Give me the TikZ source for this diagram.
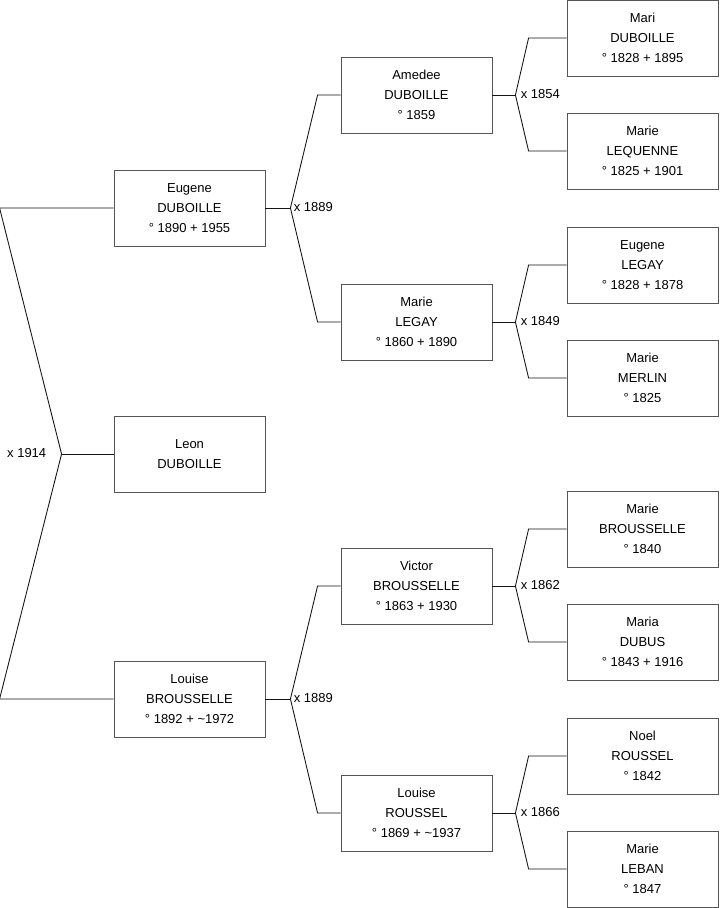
\documentclass[tikz,border=0pt]{standalone}
\usepackage{fontspec}
\setmainfont{Liberation Sans}
\usepackage{tikz}
\usetikzlibrary{positioning, calc}
\definecolor{boxline}{RGB}{85,85,85}
\definecolor{linkline}{RGB}{20,20,20}
\tikzset{
  person/.style={rectangle, draw=boxline, fill=white,
    minimum width=3.02cm, minimum height=1.52cm, inner sep=0pt,
    align=center, font=\fontsize{7.4}{11.4}\selectfont, line width=0.5pt},
  link/.style={color=linkline, line width=0.5pt},
  marriage/.style={font=\fontsize{7.4}{9}\selectfont, inner sep=0pt}
}

\begin{document}
\begin{tikzpicture}[x=0.02cm, y=-0.02cm]
  \useasboundingbox (0,0) rectangle (719,908);

  % Generation 1
  \node[person] (eug) at (189.5,208) {Eugene\\DUBOILLE\\° 1890 + 1955};
  \node[person] (leo) at (189.5,454) {Leon\\DUBOILLE};
  \node[person] (lou) at (189.5,699) {Louise\\BROUSSELLE\\° 1892 + \textasciitilde1972};

  % Generation 2
  \node[person] (ame) at (416.5,95) {Amedee\\DUBOILLE\\° 1859};
  \node[person] (mle) at (416.5,322) {Marie\\LEGAY\\° 1860 + 1890};
  \node[person] (vic) at (416.5,586) {Victor\\BROUSSELLE\\° 1863 + 1930};
  \node[person] (lro) at (416.5,813) {Louise\\ROUSSEL\\° 1869 + \textasciitilde1937};

  % Generation 3
  \node[person] (mdu) at (642.5,38) {Mari\\DUBOILLE\\° 1828 + 1895};
  \node[person] (mlq) at (642.5,151) {Marie\\LEQUENNE\\° 1825 + 1901};
  \node[person] (ele) at (642.5,265) {Eugene\\LEGAY\\° 1828 + 1878};
  \node[person] (mme) at (642.5,378) {Marie\\MERLIN\\° 1825};
  \node[person] (mbr) at (642.5,529) {Marie\\BROUSSELLE\\° 1840};
  \node[person] (mad) at (642.5,642) {Maria\\DUBUS\\° 1843 + 1916};
  \node[person] (nro) at (642.5,756) {Noel\\ROUSSEL\\° 1842};
  \node[person] (mlb) at (642.5,869) {Marie\\LEBAN\\° 1847};

  % Parents of Leon
  \draw[link] (leo.west) -- ++(-52,0) coordinate (m0);
  \draw[link] (eug.west) -- ($(eug.west)+(-114,0)$) -- (m0)
    -- ($(lou.west)+(-114,0)$) -- (lou.west);
  \node[marriage, anchor=east] at ($(m0)+(-15,-1)$) {x 1914};

  % Parents of generation 1
  \foreach \c/\f/\m/\yr in {eug/ame/mle/1889, lou/vic/lro/1889} {
    \draw[link] (\c.east) -- ++(25,0) coordinate (m\c);
    \draw[link] (\f.west) -- ($(\f.west)+(-23,0)$) -- (m\c)
      -- ($(\m.west)+(-23,0)$) -- (\m.west);
    \node[marriage, anchor=west] at ($(m\c)+(3,-1)$) {x \yr};
  }

  % Parents of generation 2
  \foreach \c/\f/\m/\yr in {ame/mdu/mlq/1854, mle/ele/mme/1849,
                            vic/mbr/mad/1862, lro/nro/mlb/1866} {
    \draw[link] (\c.east) -- ++(23,0) coordinate (m\c);
    \draw[link] (\f.west) -- ($(\f.west)+(-38,0)$) -- (m\c)
      -- ($(\m.west)+(-38,0)$) -- (\m.west);
    \node[marriage, anchor=west] at ($(m\c)+(5,-1)$) {x \yr};
  }
\end{tikzpicture}
\end{document}
